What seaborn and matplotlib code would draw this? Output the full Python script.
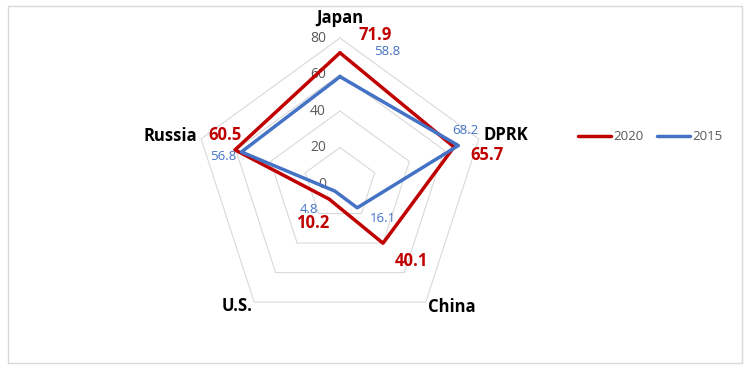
import matplotlib
matplotlib.use("Agg")
import matplotlib.pyplot as plt
from matplotlib.patches import Rectangle
import numpy as np
import pandas as pd
import seaborn as sns

## data
countries = ["Japan", "DPRK", "China", "U.S.", "Russia"]
values_2020 = [71.9, 65.7, 40.1, 10.2, 60.5]
values_2015 = [58.8, 68.2, 16.1, 4.8, 56.8]
years = ["2020", "2015"]
r_ticks = [0, 20, 40, 60, 80]

red = "#C00000"
blue = "#4472C4"
grid_col = "#D9D9D9"
txt_gray = "#595959"

sns.set_style("white")
plt.rcParams["font.family"] = ["Open Sans", "DejaVu Sans"]

angles = np.linspace(0, 2 * np.pi, len(countries), endpoint=False)
angles_closed = np.append(angles, 2 * np.pi)

# long table, first point repeated at 2*pi so the shape closes
rows = []
for year, vals in zip(years, [values_2020, values_2015]):
    for a, v in zip(angles_closed, vals + vals[:1]):
        rows.append({"angle": a, "value": v, "year": year})
df = pd.DataFrame(rows)

fig = plt.figure(figsize=(7.51, 3.70), dpi=100)
ax = fig.add_axes([0.2583, 0.1081, 0.3888, 0.7892], projection="polar")
ax.set_theta_zero_location("N")
ax.set_theta_direction(-1)
ax.set_ylim(0, 80)
ax.grid(False)
ax.spines["polar"].set_visible(False)
ax.set_xticks([])
ax.set_yticks([])
ax.set_facecolor("none")

# pentagon grid
for lvl in r_ticks[1:]:
    ax.plot(angles_closed, [lvl] * len(angles_closed), color=grid_col, lw=0.8, zorder=1, clip_on=False)

sns.lineplot(data=df, x="angle", y="value", hue="year", hue_order=years,
             palette=[red, blue], sort=False, errorbar=None, lw=2.5, ax=ax, zorder=3)
ax.set_xlabel("")
ax.set_ylabel("")
ax.set_ylim(0, 80)
for ln in ax.lines:
    ln.set_clip_on(False)

# radial tick labels
for t in r_ticks:
    ax.annotate(str(t), (0, t), xytext=(-14, 0), textcoords="offset pixels",
                ha="right", va="center", fontsize=10, color=txt_gray, zorder=2)

# category labels
cat_off = [(0, 20), (27, 4), (26, -5), (-17, -4), (-31, 3)]
for a, name, off in zip(angles, countries, cat_off):
    ax.annotate(name, (a, 80), xytext=off, textcoords="offset pixels",
                ha="center", va="center", fontsize=12, fontweight="bold", color="black")

# value labels
off_2020 = [(35, 18), (33, -8), (28, -18), (-16, -24), (-10, 15)]
off_2015 = [(47, 25), (7, 15), (26, -11), (-26, -18), (-18, -5)]
for a, v, off in zip(angles, values_2020, off_2020):
    ax.annotate(f"{v}", (a, v), xytext=off, textcoords="offset pixels",
                ha="center", va="center", fontsize=12, fontweight="bold", color=red, zorder=4)
for a, v, off in zip(angles, values_2015, off_2015):
    ax.annotate(f"{v}", (a, v), xytext=off, textcoords="offset pixels",
                ha="center", va="center", fontsize=9.5, color=blue, zorder=4)

sns.move_legend(ax, "center", bbox_to_anchor=(650 / 751, 1 - 137 / 370),
                bbox_transform=fig.transFigure, ncol=2, frameon=False, title=None,
                handlelength=2.5, handletextpad=0.2, columnspacing=1.0,
                fontsize=9.5, labelcolor=txt_gray)

# chart border
fig.patches.append(Rectangle((8 / 751, 1 - 363 / 370), 734 / 751, 357 / 370,
                             transform=fig.transFigure, fill=False,
                             edgecolor=grid_col, lw=1))

fig.savefig("out.png", dpi=100)
